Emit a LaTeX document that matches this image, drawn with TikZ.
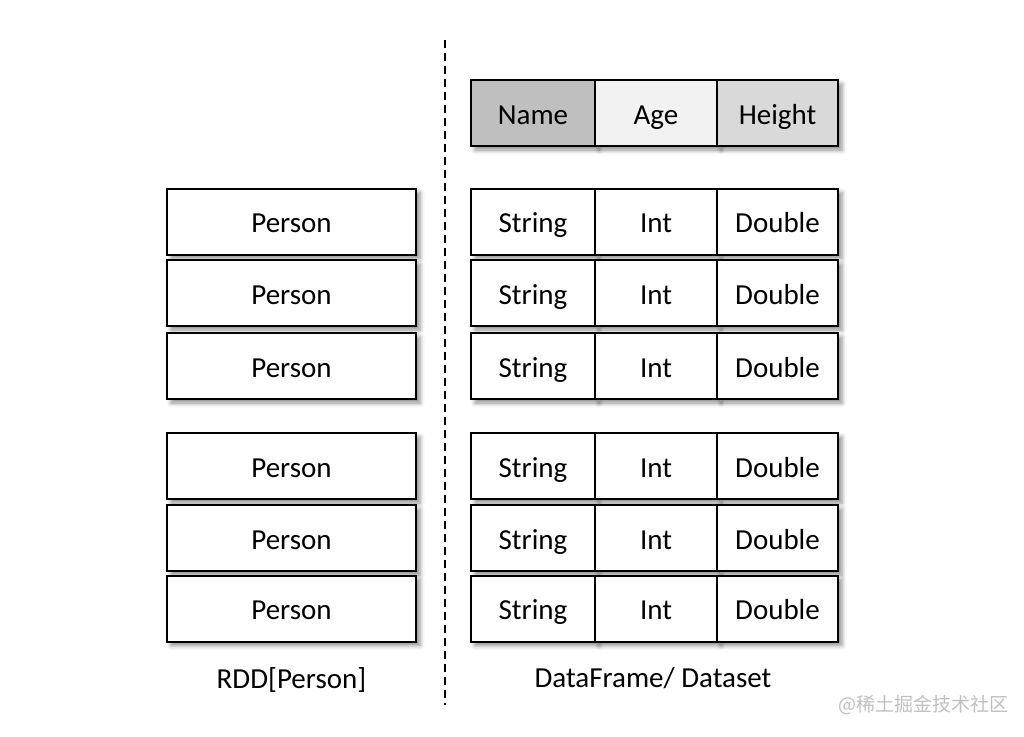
\documentclass[tikz,border=0pt]{standalone}
\usepackage{fontspec}
\setmainfont{Carlito}
\newfontfamily\cjkfont{Noto Sans CJK SC}
\usepackage{tikz}
\usetikzlibrary{shadows.blur}

\definecolor{namegray}{HTML}{BFBFBF}
\definecolor{agegray}{HTML}{F2F2F2}
\definecolor{heightgray}{HTML}{D9D9D9}

\tikzset{
  cell/.style={draw=black, line width=2pt, fill=white, inner sep=0pt,
    minimum height=66pt, text height=22pt, text depth=0pt,
    blur shadow={shadow xshift=4pt, shadow yshift=-4pt, shadow blur radius=4.5pt, shadow opacity=45},
    font=\fontsize{29}{34}\selectfont},
  person/.style={cell, minimum width=249pt},
  colA/.style={cell, minimum width=124pt},
  colB/.style={cell, minimum width=122pt},
  colC/.style={cell, minimum width=121pt},
  caption/.style={font=\fontsize{29}{34}\selectfont}
}

\begin{document}
\begin{tikzpicture}[x=1pt,y=-1pt]
      \useasboundingbox (0,0) rectangle (1024,736);

      % Divider
      \coordinate (divtop) at (445,40);
      \coordinate (divbot) at (445,705);
      \draw [line width=2pt, dash pattern=on 8pt off 5pt] (divtop) -- (divbot);

      % RDD
      \node [person] (p1) at (291.5,221.5) {Person};
      \node [person] (p2) at (291.5,293) {Person};
      \node [person] (p3) at (291.5,366) {Person};
      \node [person] (p4) at (291.5,466) {Person};
      \node [person] (p5) at (291.5,538) {Person};
      \node [person] (p6) at (291.5,608.5) {Person};
      \node [caption] (rdd) at (291.5,680) {RDD[Person]};

      % Header
      \node [colA, fill=namegray] (name) at (533,113) {Name};
      \node [colB, fill=agegray] (age) at (656,113) {Age};
      \node [colC, fill=heightgray] (height) at (777.5,113) {Height};

      % DataFrame rows
      \node [colA] (s1) at (533,221.5) {String};
      \node [colB] (i1) at (656,221.5) {Int};
      \node [colC] (d1) at (777.5,221.5) {Double};
      \node [colA] (s2) at (533,293) {String};
      \node [colB] (i2) at (656,293) {Int};
      \node [colC] (d2) at (777.5,293) {Double};
      \node [colA] (s3) at (533,366) {String};
      \node [colB] (i3) at (656,366) {Int};
      \node [colC] (d3) at (777.5,366) {Double};
      \node [colA] (s4) at (533,466) {String};
      \node [colB] (i4) at (656,466) {Int};
      \node [colC] (d4) at (777.5,466) {Double};
      \node [colA] (s5) at (533,538) {String};
      \node [colB] (i5) at (656,538) {Int};
      \node [colC] (d5) at (777.5,538) {Double};
      \node [colA] (s6) at (533,608.5) {String};
      \node [colB] (i6) at (656,608.5) {Int};
      \node [colC] (d6) at (777.5,608.5) {Double};
      \node [caption] (df) at (653,678) {DataFrame/ Dataset};

      % Watermark
      \node [text=black!25, font=\cjkfont\fontsize{19}{22}\selectfont] (mark) at (923,705) {@稀土掘金技术社区};
\end{tikzpicture}
\end{document}
